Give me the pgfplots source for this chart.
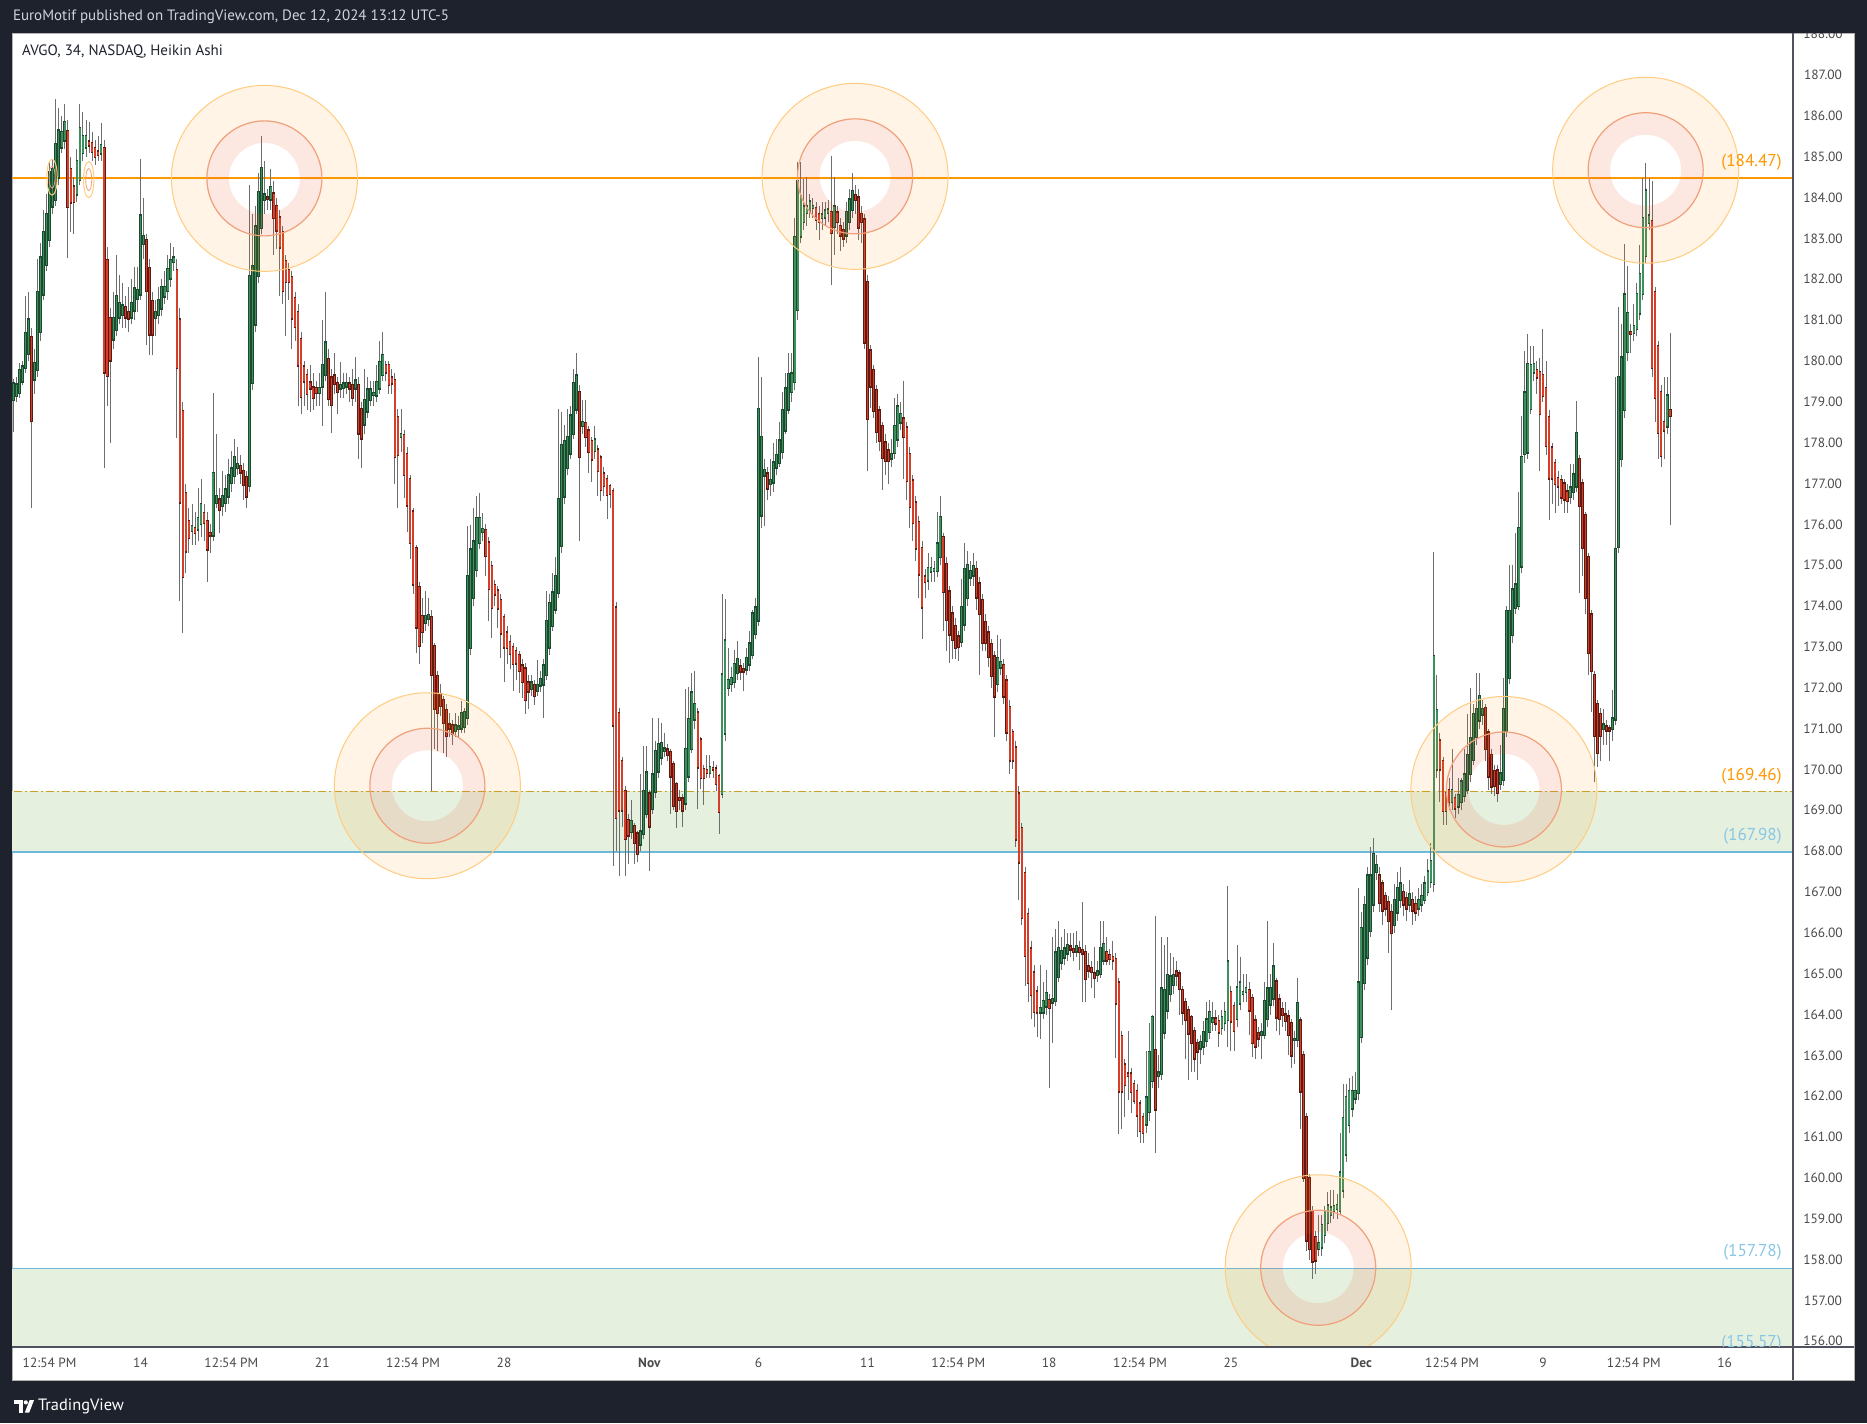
\documentclass[border=0pt]{standalone}
\usepackage{fontspec}
\setmainfont{PT Sans}
\usepackage{pgfplots}
\usepackage{pgfplotstable}
\pgfplotsset{compat=1.18}

\definecolor{bgdark}{HTML}{1E222D}
\definecolor{hdrtxt}{HTML}{D1D4DC}
\definecolor{axtxt}{HTML}{4A4A4A}
\definecolor{sepline}{HTML}{50535E}
\definecolor{upfill}{HTML}{3E8E5E}
\definecolor{upedge}{HTML}{1C4A2E}
\definecolor{dnfill}{HTML}{D2402C}
\definecolor{dnedge}{HTML}{5E1A10}
\definecolor{wick}{HTML}{6E6E6E}
\definecolor{tvorange}{HTML}{FF9800}
\definecolor{dashgold}{HTML}{C9A227}
\definecolor{tvblue}{HTML}{6DB9DA}
\definecolor{lblblue}{HTML}{8AC6E6}
\definecolor{zone}{HTML}{E5F0DF}
\definecolor{ringout}{HTML}{FFCC80}
\definecolor{ringmid}{HTML}{F0A07A}
\definecolor{ringred}{HTML}{F4511E}

% one Heikin Ashi candle per row: open close high low (34 min bars)
\pgfplotstableread{
o c h l
179.05 179.44 179.55 178.26
179.15 179.42 179.6 179.0
179.22 179.78 179.95 179.1
179.50 179.86 180.0 179.4
179.83 180.68 181.58 179.7
180.17 181.01 181.7 180.0
180.59 178.54 180.8 176.40
179.55 179.94 180.3 179.2
179.78 181.69 182.5 179.6
180.71 182.53 182.9 180.5
181.63 183.15 183.7 181.5
182.36 183.60 184.1 182.2
182.96 184.61 184.9 182.8
183.79 184.70 184.95 183.6
183.94 185.31 186.41 183.8
184.50 185.64 186.2 184.3
185.23 185.60 186.0 185.1
185.40 185.85 186.3 185.2
185.62 183.77 185.9 182.53
184.70 183.88 185.0 183.15
184.27 183.90 184.5 183.1
184.08 184.89 185.2 183.9
184.44 185.70 186.30 184.3
185.09 185.51 186.1 184.9
185.23 185.51 185.9 185.0
185.37 185.28 185.85 185.1
185.34 185.12 185.6 184.9
185.21 185.00 185.4 184.8
185.12 185.04 185.5 184.9
185.08 185.28 185.82 184.9
185.21 179.72 185.4 177.39
182.47 179.63 182.8 178.9
181.05 180.02 181.3 178.0
180.53 181.05 181.7 180.3
180.77 181.58 182.6 180.6
181.07 181.41 182.1 180.9
181.13 181.35 181.9 180.8
181.32 181.07 181.6 180.8
181.20 181.04 181.8 180.7
181.07 181.41 182.0 180.9
181.24 181.77 182.3 181.0
181.52 181.73 182.3 181.2
181.63 183.56 184.95 181.5
182.87 183.06 184.0 182.5
182.96 181.71 183.1 180.4
182.27 180.65 182.5 180.15
181.46 180.65 181.7 180.15
181.05 181.20 181.5 180.6
181.13 181.49 181.8 180.9
181.29 181.80 182.0 181.1
181.58 181.80 182.2 181.4
181.72 182.25 182.6 181.5
182.02 182.47 182.9 181.8
182.43 182.53 182.8 182.2
182.23 179.83 182.5 178.11
181.01 176.54 181.3 174.13
178.77 174.72 179.0 173.35
176.76 175.34 177.0 174.8
176.07 175.67 176.4 175.3
175.84 175.96 176.5 175.5
175.90 175.79 176.3 175.5
175.88 176.15 176.9 175.6
176.01 176.49 177.1 175.7
176.27 176.04 176.5 175.6
176.07 175.39 176.3 174.6
175.79 175.73 176.0 175.3
175.73 177.25 179.22 175.6
176.52 176.69 178.2 176.4
176.60 176.35 176.9 175.8
176.46 176.69 177.3 176.2
176.52 176.85 177.2 176.3
176.69 177.19 177.6 176.5
177.02 177.36 177.8 176.8
177.19 177.64 178.1 177.0
177.39 177.47 177.9 177.2
177.42 177.27 177.7 177.0
177.30 176.97 177.5 176.6
177.16 176.69 177.3 176.4
176.94 182.08 184.31 176.8
179.47 182.31 183.6 179.3
180.90 183.29 183.8 180.7
182.08 184.14 184.6 181.9
183.26 184.72 185.51 183.1
183.94 184.07 184.9 183.6
184.00 183.97 184.2 183.7
183.96 184.25 184.7 183.7
184.10 183.51 184.4 182.6
183.79 183.20 184.0 182.75
183.51 182.78 183.7 181.6
183.15 181.71 183.3 181.4
182.45 181.93 182.6 180.6
182.22 181.93 182.4 181.5
182.05 181.04 182.2 180.3
181.54 180.84 181.7 180.5
181.20 179.89 181.4 178.9
180.53 179.13 180.7 178.7
179.86 179.50 180.0 178.9
179.66 179.19 179.8 178.8
179.47 179.33 179.9 178.75
179.35 179.10 179.7 178.8
179.34 179.22 179.5 178.9
179.22 179.33 179.7 178.9
179.38 179.89 181.0 178.4
179.66 180.45 181.69 179.5
180.04 179.08 180.3 178.9
179.59 178.93 179.8 178.23
179.64 179.44 180.2 179.2
179.46 179.25 179.6 178.7
179.33 179.41 179.97 179.1
179.35 179.44 179.7 179.1
179.38 179.46 179.7 179.2
179.44 179.33 179.6 179.0
179.41 179.10 179.8 178.9
179.33 179.52 180.1 179.0
179.41 178.23 179.6 177.60
178.82 178.11 179.0 177.39
178.45 179.04 179.8 178.2
178.77 179.30 179.6 178.6
179.05 179.30 179.5 178.9
179.17 179.21 179.5 178.9
179.16 179.48 179.9 179.0
179.33 179.97 180.5 179.2
179.66 180.14 180.7 179.5
179.89 179.72 180.0 179.5
179.89 179.41 180.0 179.2
179.59 179.45 179.8 179.2
179.53 177.65 179.7 177.0
178.62 177.70 178.83 176.39
178.15 178.20 178.83 177.78
178.18 177.22 178.3 176.65
177.72 176.47 177.9 175.82
177.10 175.54 177.2 175.16
176.31 174.53 176.4 174.3
175.42 173.48 175.5 172.85
174.46 173.02 174.6 172.58
173.76 173.37 174.2 173.1
173.59 173.76 174.38 173.4
173.69 173.78 174.2 173.5
173.72 172.32 173.9 169.48
173.02 171.49 173.1 170.5
172.28 171.39 172.4 170.44
171.84 171.56 172.1 171.3
171.69 171.14 171.8 170.4
171.45 170.83 171.6 170.3
171.10 171.01 171.38 170.8
171.07 170.88 171.2 170.6
170.95 171.07 171.38 170.8
171.00 171.05 171.3 170.8
171.01 171.38 171.67 170.9
171.05 171.40 171.5 170.9
171.27 174.73 175.95 171.1
172.98 175.38 175.99 172.8
174.20 175.58 176.39 174.0
174.88 176.15 176.7 174.7
175.54 176.15 176.77 175.4
175.82 175.88 176.28 175.6
175.85 175.23 176.0 174.73
175.55 174.42 175.7 173.63
174.97 173.96 175.1 173.22
174.51 174.29 174.64 174.0
174.38 173.94 174.5 173.46
174.14 173.33 174.3 172.73
173.72 172.99 173.8 172.15
173.35 172.98 173.5 172.58
173.11 172.83 173.3 172.45
172.99 172.58 173.1 171.93
172.90 172.60 173.0 172.2
172.80 172.41 172.9 171.88
172.54 172.15 172.7 171.75
172.47 171.71 172.6 171.36
172.12 171.91 172.3 171.49
171.98 172.12 172.3 171.8
172.06 171.80 172.2 171.58
171.93 172.06 172.67 171.8
172.06 172.21 172.4 171.9
172.08 172.54 172.7 171.27
172.32 173.63 174.38 172.2
172.99 174.07 174.3 172.8
173.52 174.33 174.81 173.4
173.92 174.73 175.2 173.8
174.32 176.61 178.83 174.2
175.47 177.94 178.75 175.3
176.69 178.03 178.44 176.5
177.39 178.13 178.83 177.2
177.74 178.66 178.9 177.6
178.22 179.45 179.8 178.1
178.82 179.64 180.19 178.7
179.23 177.65 179.4 175.6
178.41 178.50 179.05 178.2
178.47 178.15 179.05 177.9
178.29 177.77 178.4 177.26
178.03 177.59 178.15 177.04
177.80 178.07 178.41 177.6
177.83 177.31 177.95 176.69
177.63 176.85 177.7 176.56
177.24 176.95 177.4 176.7
177.10 176.72 177.2 176.12
176.93 176.74 177.0 176.39
176.82 171.08 176.9 167.64
173.96 168.81 174.1 168.0
171.38 169.00 171.5 167.4
170.21 169.00 170.3 168.6
169.46 168.30 169.6 167.38
168.76 168.39 168.9 167.69
168.48 168.74 169.26 168.3
168.61 168.21 168.7 167.69
168.43 167.93 168.5 167.74
168.17 168.48 169.9 168.0
168.43 169.46 170.57 168.3
168.91 169.92 170.57 168.8
169.41 168.61 169.5 167.51
169.04 169.87 171.27 168.9
169.45 170.44 170.7 169.3
169.95 170.62 171.27 169.8
170.30 170.64 171.14 170.1
170.46 170.51 170.88 170.3
170.48 170.36 170.62 170.2
170.42 169.83 170.5 168.91
170.13 169.11 170.2 169.0
169.64 168.98 169.7 168.56
169.30 169.26 169.5 169.0
169.28 169.00 169.4 168.6
169.17 170.49 171.97 169.0
169.83 171.23 172.02 169.7
170.51 171.88 172.36 170.4
171.23 171.59 172.41 171.0
171.39 170.05 171.5 169.04
170.73 169.79 170.8 169.52
170.00 169.79 170.1 169.13
169.98 169.92 170.35 169.8
169.92 170.05 170.35 169.8
170.03 170.00 170.2 169.8
170.02 169.64 170.1 169.48
169.83 168.97 169.9 168.43
169.40 172.32 174.29 169.3
170.88 173.15 174.18 170.7
172.00 172.19 172.98 171.8
172.10 172.24 172.5 171.9
172.15 172.58 172.93 172.0
172.36 172.70 173.15 172.2
172.52 172.40 172.7 172.2
172.46 172.40 172.6 171.93
172.45 172.72 172.98 172.3
172.57 173.08 173.4 172.4
172.80 173.81 173.9 172.7
173.32 173.96 174.2 173.2
173.65 178.82 180.1 173.5
176.22 178.13 179.6 175.9
177.20 177.32 177.6 175.95
177.24 176.88 177.4 176.6
177.00 177.08 177.6 176.7
177.03 177.51 178.0 176.8
177.40 177.70 178.1 177.2
177.50 178.05 178.5 177.4
177.78 178.80 179.24 177.6
178.30 179.32 179.7 178.2
178.82 179.68 180.2 178.7
179.25 179.69 180.2 179.0
179.49 183.03 183.5 179.3
181.25 184.40 184.87 181.0
183.05 184.03 184.87 182.9
183.40 183.78 184.46 183.2
183.62 183.78 184.5 183.3
183.68 183.90 184.1 183.5
183.75 183.79 184.0 183.5
183.74 183.46 183.9 183.2
183.60 183.40 183.8 182.95
183.50 183.58 183.9 183.2
183.52 183.68 183.9 183.3
183.63 183.70 183.95 183.4
183.65 183.13 185.02 181.85
183.28 183.78 184.5 182.6
183.63 183.40 183.8 183.1
183.30 183.08 183.5 182.7
183.20 183.00 183.4 182.8
183.08 183.65 183.9 182.9
183.40 183.95 184.2 183.2
183.70 184.15 184.6 183.5
184.06 183.95 184.3 183.6
184.00 183.27 184.2 182.95
183.60 183.40 183.8 182.9
183.46 180.46 183.6 180.3
181.93 178.59 182.1 177.3
180.25 179.38 180.4 178.85
179.78 178.78 179.9 178.6
179.28 178.26 179.4 178.0
178.78 178.05 178.9 177.8
178.40 177.63 178.5 176.85
178.00 177.56 178.2 177.2
177.80 177.55 178.0 177.0
177.62 177.72 178.1 177.4
177.75 178.40 179.1 177.6
178.08 178.88 179.2 177.9
178.50 178.70 179.0 178.3
178.59 178.15 179.5 177.1
178.37 177.06 178.5 176.6
177.72 176.43 177.9 175.9
177.07 176.03 177.2 175.6
176.53 175.41 176.7 175.1
176.05 174.78 176.2 174.2
175.41 173.97 175.6 173.2
174.72 174.60 174.9 174.2
174.63 174.93 175.3 174.4
174.85 174.93 175.2 174.6
174.86 174.90 175.1 174.6
174.87 175.53 176.3 174.7
175.20 176.18 176.7 175.0
175.68 174.35 175.8 173.4
175.03 173.66 175.2 172.9
174.35 173.31 174.5 172.6
173.81 173.18 174.0 172.7
173.50 172.97 173.7 172.7
173.25 173.00 173.4 172.65
173.13 173.97 174.66 173.0
173.55 174.91 175.55 173.4
174.20 175.00 175.35 174.0
174.70 174.85 175.1 174.5
174.75 174.98 175.3 174.5
174.90 174.21 175.1 173.9
174.55 173.81 174.7 172.3
174.15 173.10 174.3 172.9
173.60 173.10 173.8 172.9
173.35 172.76 173.5 172.5
173.07 172.29 173.2 172.0
172.76 171.79 172.9 170.8
172.10 172.72 173.3 171.9
172.50 172.62 173.2 172.3
172.56 171.79 172.7 171.6
172.17 170.91 172.3 170.7
171.53 170.22 171.7 169.9
170.91 170.22 171.0 170.0
170.53 168.29 170.7 168.1
169.41 167.73 169.6 166.8
168.56 166.36 168.7 166.2
167.46 165.43 167.6 164.7
166.45 164.78 166.6 164.3
165.61 164.48 165.8 163.9
165.02 164.07 165.2 163.7
164.56 164.05 164.7 163.44
164.05 164.16 165.2 163.4
164.05 164.32 164.8 163.9
164.20 164.52 165.1 164.0
164.35 164.17 164.5 162.2
164.30 164.37 165.9 163.3
164.33 165.51 166.1 164.2
164.93 165.63 166.3 164.8
165.28 165.55 165.9 165.1
165.40 165.61 166.1 165.2
165.50 165.70 166.0 165.3
165.66 165.60 166.0 165.4
165.60 165.53 166.0 165.3
165.55 165.67 166.05 165.4
165.63 165.53 165.8 165.1
165.58 165.50 166.75 164.3
165.53 164.88 165.7 164.3
165.17 165.08 165.5 164.9
165.13 165.05 165.3 164.65
165.00 164.90 165.65 164.4
164.97 165.05 165.3 164.8
165.00 165.63 166.3 164.9
165.33 165.72 166.3 165.2
165.53 165.33 165.9 165.2
165.45 165.36 165.6 165.2
165.40 165.33 165.8 165.1
165.35 164.27 165.5 162.93
164.78 162.12 164.9 161.07
163.47 162.12 163.6 161.2
162.77 162.28 162.9 161.5
162.55 162.50 163.6 161.9
162.55 162.10 162.7 161.6
162.30 161.88 162.4 161.8
162.12 161.53 162.3 161.0
161.82 161.15 161.9 160.85
161.49 161.10 161.6 160.85
161.31 161.96 163.1 161.1
161.62 163.08 163.8 161.4
162.37 163.93 164.0 162.2
163.13 161.68 166.4 160.6
162.50 162.58 163.0 162.2
162.55 164.63 165.9 162.4
163.56 164.60 165.7 163.4
164.10 164.96 165.9 163.9
164.50 164.93 165.5 164.3
164.72 164.97 165.4 164.5
165.05 164.96 165.3 164.7
165.00 164.63 165.1 164.0
164.60 164.05 164.7 163.75
164.30 163.87 164.4 162.9
164.10 163.54 164.2 162.4
163.93 163.30 164.0 162.6
163.60 162.93 163.7 162.6
163.30 163.10 163.4 162.4
163.17 163.32 163.5 162.8
163.22 163.57 163.85 163.0
163.36 163.87 164.3 163.2
163.58 164.05 164.35 163.4
163.82 163.90 164.3 163.6
163.90 163.78 164.1 163.6
163.83 163.56 164.0 163.2
163.67 163.93 164.1 163.5
163.80 164.05 164.3 163.6
163.87 165.29 167.15 163.2
164.55 163.83 164.7 163.1
164.20 163.60 164.3 163.1
163.90 164.66 165.7 163.7
164.27 164.78 165.4 164.1
164.50 164.55 165.0 164.3
164.55 164.65 165.0 164.3
164.60 164.10 164.8 163.5
164.40 163.30 164.5 162.95
163.85 163.22 164.0 162.9
163.55 163.42 163.7 163.2
163.50 163.56 163.8 162.9
163.50 164.32 164.8 163.4
163.90 164.63 166.3 163.7
164.25 164.64 165.0 164.0
164.40 165.17 165.75 164.2
164.80 163.93 164.9 163.6
164.36 163.90 164.5 163.5
164.13 163.99 164.3 163.7
164.00 163.85 164.3 163.6
163.95 163.50 164.1 163.0
163.78 163.00 163.9 162.7
163.38 163.40 163.6 162.8
163.38 164.27 164.9 163.2
163.85 162.12 163.95 161.2
163.00 160.00 163.1 159.9
161.49 158.47 161.6 158.2
160.00 158.26 160.1 158.0
159.18 157.96 159.3 157.53
158.55 157.98 158.7 157.65
158.27 158.40 159.1 158.1
158.30 158.84 159.1 158.1
158.60 159.18 159.3 158.4
158.90 159.32 159.65 158.7
159.10 159.27 159.7 158.9
159.20 159.30 159.7 159.0
159.25 159.33 159.6 159.0
159.20 160.13 161.1 159.1
159.70 161.46 162.3 159.5
160.58 161.98 162.3 160.4
161.30 162.12 162.45 161.1
161.70 162.12 162.5 161.5
161.95 162.13 162.6 161.8
162.08 164.78 167.1 161.9
163.45 166.12 166.5 163.3
164.78 166.67 166.9 164.6
165.40 167.40 167.6 165.2
166.05 167.40 168.1 165.9
166.70 167.92 168.31 166.5
167.50 167.65 167.9 167.3
167.40 166.73 167.6 166.5
167.20 166.55 167.3 166.2
166.90 166.60 167.0 166.4
166.75 166.30 166.9 165.5
166.50 166.00 166.7 164.1
166.20 166.80 167.2 166.0
166.50 167.10 167.5 166.3
166.80 167.20 167.6 166.6
167.00 166.70 167.2 166.4
166.85 166.60 167.0 166.3
166.70 166.95 167.3 166.5
166.80 166.55 167.0 166.2
166.70 166.50 166.9 166.3
166.60 166.80 167.1 166.4
166.70 166.90 167.2 166.5
166.80 167.20 167.4 166.7
167.00 167.50 167.8 166.9
167.25 167.75 168.2 167.1
167.20 172.78 175.33 167.0
170.00 171.45 172.3 169.8
170.70 170.00 170.9 169.2
170.20 168.98 170.3 168.65
169.42 168.98 169.6 168.65
169.50 169.20 169.8 169.0
169.20 169.50 170.5 169.0
169.30 169.05 169.4 168.8
169.10 169.37 169.8 168.9
169.20 169.70 169.8 169.0
169.35 169.87 170.5 169.2
169.50 170.35 171.35 169.4
169.90 170.76 172.0 169.7
170.23 171.35 171.6 170.1
170.80 171.47 172.36 170.6
171.20 171.80 172.36 171.0
171.35 171.48 171.7 171.1
171.50 170.50 171.6 170.2
170.90 169.83 171.0 169.5
170.35 169.59 170.5 169.4
169.95 169.60 170.1 169.35
169.97 169.42 170.1 169.2
169.65 169.90 170.6 169.5
169.75 171.47 172.25 169.6
170.95 173.88 174.0 170.8
172.25 173.88 175.0 172.1
173.30 174.40 175.0 173.1
173.95 174.52 175.8 173.8
174.00 175.90 176.8 173.9
174.97 177.64 178.65 174.8
177.72 179.22 180.25 177.5
177.76 179.92 180.67 177.6
178.83 179.90 180.37 178.7
179.72 179.92 180.37 179.5
179.78 179.60 180.0 179.2
179.72 178.71 180.08 177.3
179.65 179.15 180.79 179.0
179.34 177.92 180.0 177.7
178.63 177.13 178.8 176.1
177.88 177.13 178.0 176.5
177.50 177.00 177.6 176.28
177.13 176.93 177.3 176.46
177.08 176.66 177.2 176.5
177.00 176.61 177.1 176.28
176.80 176.58 177.0 176.28
176.67 176.90 177.47 176.5
176.80 177.22 177.47 176.6
176.93 178.24 179.03 176.8
177.60 176.46 177.7 174.32
177.00 175.42 177.1 174.73
176.22 174.20 176.3 173.8
175.20 172.86 175.3 172.3
173.79 172.42 173.9 171.41
172.31 170.82 172.4 169.7
171.60 170.40 171.7 170.05
171.35 170.82 171.5 170.2
171.00 171.10 171.47 170.6
171.05 170.96 171.2 170.6
171.00 170.96 171.1 170.2
170.99 171.24 171.95 170.7
171.23 175.39 179.6 171.1
175.45 179.60 181.32 175.3
177.60 180.08 180.9 177.4
178.80 181.62 182.86 178.6
180.22 181.17 182.33 180.0
180.70 180.66 180.9 180.2
180.69 180.85 181.4 180.5
180.79 181.64 181.9 180.6
181.17 182.12 182.83 181.0
181.64 183.49 184.47 181.5
182.57 184.17 184.85 182.4
183.38 183.56 184.47 183.2
183.42 179.84 184.4 179.6
181.68 179.10 181.8 178.5
180.37 178.24 180.5 177.6
179.24 177.68 179.4 177.4
178.50 178.30 179.6 177.6
178.40 179.15 179.6 178.2
178.80 178.66 180.69 175.98
}\hatab

% target rings drawn on the chart (screen sized, so in pt)
\newcommand{\target}[2]{%
  \fill[tvorange, opacity=0.10, even odd rule]
    (axis cs:#1,#2) circle[radius=46.5pt] (axis cs:#1,#2) circle[radius=28.75pt];
  \fill[ringred, opacity=0.13, even odd rule]
    (axis cs:#1,#2) circle[radius=28.75pt] (axis cs:#1,#2) circle[radius=17.75pt];
  \draw[ringout, line width=0.5pt] (axis cs:#1,#2) circle[radius=46.5pt];
  \draw[ringmid, line width=0.6pt] (axis cs:#1,#2) circle[radius=28.75pt];
}
\newcommand{\mini}[2]{%
  \draw[ringout, line width=0.5pt] (axis cs:#1,#2) ellipse[x radius=2.6pt, y radius=9pt];
  \draw[ringmid, line width=0.4pt] (axis cs:#1,#2) ellipse[x radius=1.5pt, y radius=5.5pt];
}

\begin{document}
\begin{tikzpicture}
\fill[bgdark] (0,0) rectangle (933.5pt,711.5pt);
\filldraw[fill=white, draw=gray!60, line width=0.4pt] (6pt,21.5pt) rectangle (927pt,695pt);

\begin{axis}[
  at={(6pt,38pt)}, anchor=south west,
  width=890.5pt, height=657pt, scale only axis,
  xmin=-0.43, xmax=587.55, ymin=155.86, ymax=188.03,
  axis line style={draw=none},
  tick style={draw=none},
  major tick length=0pt,
  xtick={12,42,72,102,132,162,210,246,282,312,342,372,402,445,475,505,535,565},
  xticklabels={12:54 PM,14,12:54 PM,21,12:54 PM,28,\textbf{Nov},6,11,12:54 PM,18,12:54 PM,25,\textbf{Dec},12:54 PM,9,12:54 PM,16},
  x tick label style={font=\fontsize{6.7}{7}\selectfont, text=axtxt, anchor=center, yshift=-8pt},
  ytick={156,...,188},
  yticklabel pos=right,
  yticklabel={\pgfmathprintnumber[fixed,fixed zerofill,precision=2]{\tick}},
  y tick label style={font=\fontsize{6.7}{7}\selectfont, text=axtxt, anchor=center, xshift=15pt},
  /pgf/number format/assume math mode=true,
  clip=true,
]
% zones and levels
\fill[zone] (axis cs:-5,167.98) rectangle (axis cs:600,169.46);
\fill[zone] (axis cs:-5,155.57) rectangle (axis cs:600,157.78);
\draw[tvorange, line width=1pt] (axis cs:-5,184.47) -- (axis cs:600,184.47);
\draw[dashgold, line width=0.5pt, dash pattern=on 4pt off 1.5pt on 1pt off 1.5pt] (axis cs:-5,169.46) -- (axis cs:600,169.46);
\draw[tvblue, line width=0.6pt] (axis cs:-5,167.98) -- (axis cs:600,167.98);
\draw[tvblue, line width=0.6pt] (axis cs:-5,157.78) -- (axis cs:600,157.78);

% wicks: low to high
\addplot[forget plot, draw=wick, -,
  quiver={u=0, v={\thisrow{h}-\thisrow{l}},
    every arrow/.append style={draw=wick, line width=0.5pt}}]
  table[x expr=\coordindex, y=l] {\hatab};
% up bodies: open to close
\addplot[forget plot, draw=upedge, -,
  restrict expr to domain={\thisrow{c}-\thisrow{o}}{0:100},
  quiver={u=0, v={\thisrow{c}-\thisrow{o}},
    every arrow/.append style={draw=upedge, line width=1.35pt, line cap=rect}}]
  table[x expr=\coordindex, y=o] {\hatab};
\addplot[forget plot, draw=upfill, -,
  restrict expr to domain={\thisrow{c}-\thisrow{o}}{0:100},
  quiver={u=0, v={\thisrow{c}-\thisrow{o}},
    every arrow/.append style={draw=upfill, line width=0.75pt}}]
  table[x expr=\coordindex, y=o] {\hatab};
% down bodies: close to open
\addplot[forget plot, draw=dnedge, -,
  restrict expr to domain={\thisrow{o}-\thisrow{c}}{0.00001:100},
  quiver={u=0, v={\thisrow{o}-\thisrow{c}},
    every arrow/.append style={draw=dnedge, line width=1.35pt, line cap=rect}}]
  table[x expr=\coordindex, y=c] {\hatab};
\addplot[forget plot, draw=dnfill, -,
  restrict expr to domain={\thisrow{o}-\thisrow{c}}{0.00001:100},
  quiver={u=0, v={\thisrow{o}-\thisrow{c}},
    every arrow/.append style={draw=dnfill, line width=0.75pt}}]
  table[x expr=\coordindex, y=c] {\hatab};

% rings
\target{82.9}{184.47}
\target{277.9}{184.52}
\target{538.9}{184.67}
\target{136.7}{169.60}
\target{492.1}{169.51}
\target{430.8}{157.80}
\mini{24.9}{184.44}
\mini{12.8}{184.5}
\end{axis}

% frame pieces round the plot
\fill[bgdark] (0,695pt) rectangle (933.5pt,711.5pt);
\fill[white] (896.8pt,21.8pt) rectangle (926.7pt,37.8pt);
\draw[sepline, line width=0.6pt] (896.5pt,21.5pt) -- (896.5pt,695pt);
\draw[sepline, line width=0.6pt] (6pt,38pt) -- (927pt,38pt);

% level labels
\node[anchor=east, text=tvorange, font=\fontsize{8.6}{9}\selectfont, inner sep=0pt] at (891pt,630.5pt) {(184.47)};
\node[anchor=east, text=tvorange, font=\fontsize{8.6}{9}\selectfont, inner sep=0pt] at (891pt,323.4pt) {(169.46)};
\node[anchor=east, text=lblblue, font=\fontsize{8.6}{9}\selectfont, inner sep=0pt] at (891pt,293.6pt) {(167.98)};
\node[anchor=east, text=lblblue, font=\fontsize{8.6}{9}\selectfont, inner sep=0pt] at (891pt,85.2pt) {(157.78)};
\begin{scope}
\clip (6pt,38.3pt) rectangle (896pt,60pt);
\node[anchor=east, text=lblblue, font=\fontsize{8.6}{9}\selectfont, inner sep=0pt] at (891pt,40pt) {(155.57)};
\end{scope}

% header and symbol line
\node[anchor=west, text=hdrtxt, font=\fontsize{7.5}{8}\selectfont, inner sep=0pt] at (6.3pt,703pt)
  {EuroMotif published on TradingView.com, Dec 12, 2024 13:12 UTC-5};
\node[anchor=west, text=bgdark, font=\fontsize{7.5}{8}\selectfont, inner sep=0pt] at (10.9pt,685.8pt)
  {AVGO, 34, NASDAQ, Heikin Ashi};

% footer logo and name
\fill[white] (7pt,9.6pt) rectangle (11.6pt,11.4pt);
\fill[white] (9.4pt,5.2pt) rectangle (11.6pt,11.4pt);
\fill[white] (12.9pt,10.3pt) circle[radius=1.05pt];
\fill[white] (12.4pt,5.2pt) -- (14.6pt,5.2pt) -- (17pt,11.4pt) -- (14.8pt,11.4pt) -- cycle;
\node[anchor=west, text=white, font=\fontsize{8.2}{9}\selectfont, inner sep=0pt] at (18.8pt,8.4pt) {TradingView};

\pgfresetboundingbox
\path[use as bounding box] (0,0) rectangle (933.5pt,711.5pt);
\end{tikzpicture}
\end{document}
